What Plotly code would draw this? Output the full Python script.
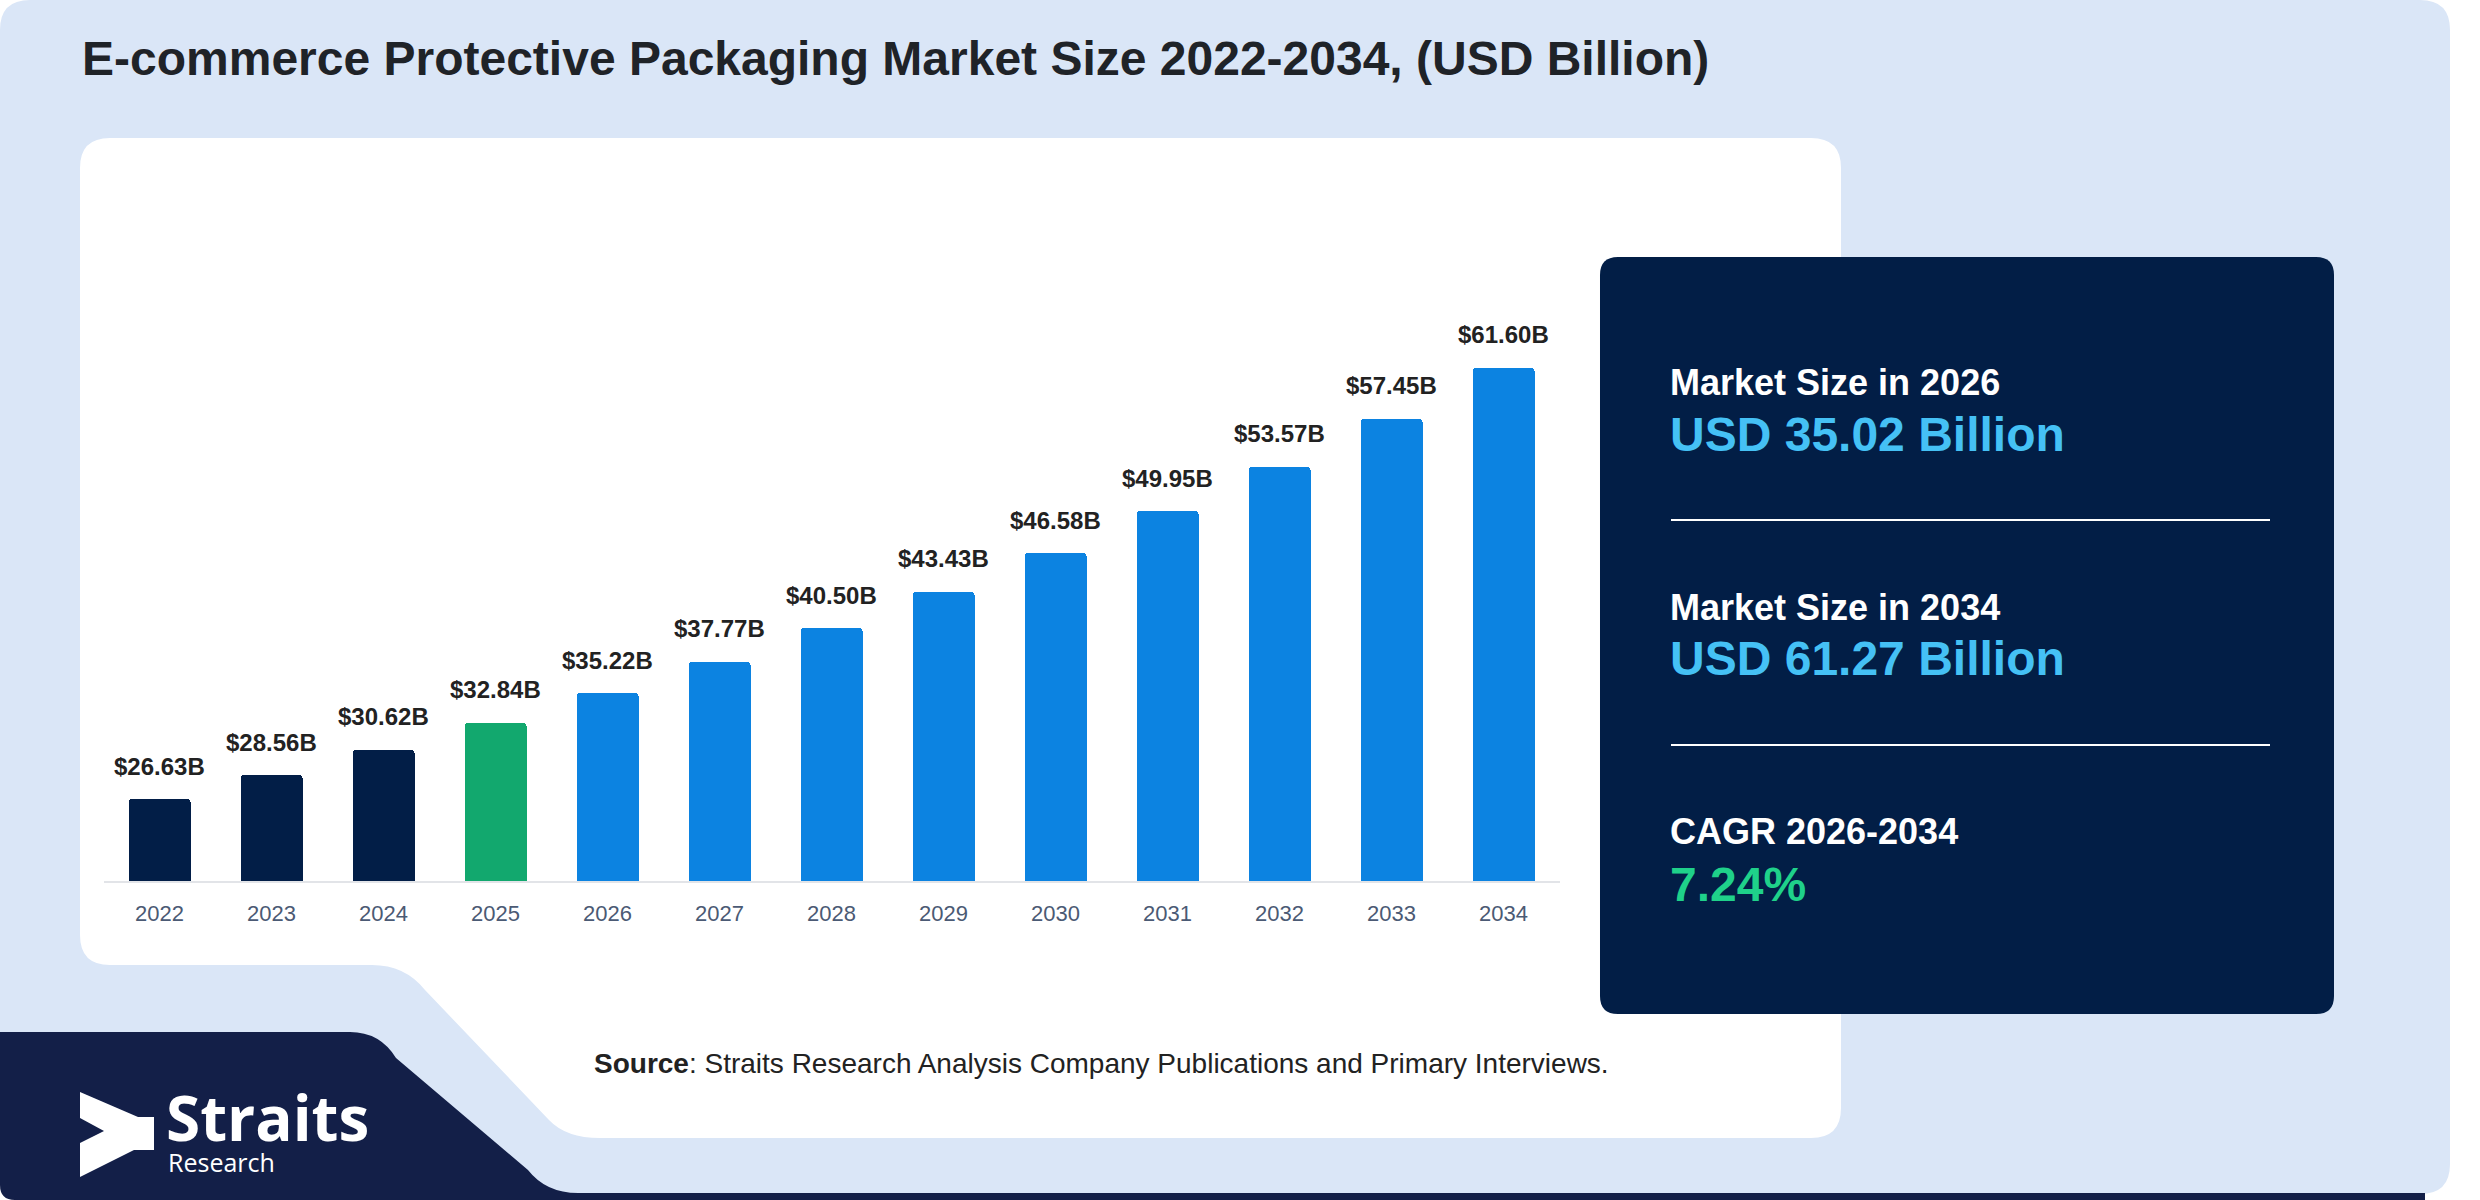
import plotly.graph_objects as go

# ---------------- data ----------------
years = ["2022", "2023", "2024", "2025", "2026", "2027", "2028",
         "2029", "2030", "2031", "2032", "2033", "2034"]
values = [26.63, 28.56, 30.62, 32.84, 35.22, 37.77, 40.50,
          43.43, 46.58, 49.95, 53.57, 57.45, 61.60]
base_year = 2025

kpi_labels = ["Market Size in 2026", "Market Size in 2034", "CAGR 2026-2034"]
kpi_values = ["USD 35.02 Billion", "USD 61.27 Billion", "7.24%"]

title_text = "E-commerce Protective Packaging Market Size 2022-2034, (USD Billion)"
source_text = "<b>Source</b>: Straits Research Analysis Company Publications and Primary Interviews."

# ---------------- styling ----------------
W, H = 2480, 1200
NAVY = "#021e47"
GREEN = "#12a86e"
BLUE = "#0c83e1"
CARD = "#dae6f7"
BOX = "#021e46"
LOGO_NAVY = "#131f48"
FONT = "Liberation Sans, Arial, sans-serif"


def px(x):
    return x / W


def py(y):
    return 1 - y / H


def pt(x, y):
    return f"{px(x):.5f},{py(y):.5f}"


def rrect(x0, y0, x1, y1, r):
    return (f"M {pt(x0 + r, y0)} L {pt(x1 - r, y0)} Q {pt(x1, y0)} {pt(x1, y0 + r)} "
            f"L {pt(x1, y1 - r)} Q {pt(x1, y1)} {pt(x1 - r, y1)} "
            f"L {pt(x0 + r, y1)} Q {pt(x0, y1)} {pt(x0, y1 - r)} "
            f"L {pt(x0, y0 + r)} Q {pt(x0, y0)} {pt(x0 + r, y0)} Z")


def bar_color(y):
    y = int(y)
    if y < base_year:
        return NAVY
    if y == base_year:
        return GREEN
    return BLUE


fig = go.Figure()
fig.add_trace(go.Bar(
    x=years, y=values,
    marker=dict(color=[bar_color(y) for y in years], line=dict(width=0), cornerradius=3),
    width=0.545,
    hoverinfo="skip",
))

shapes = []
# light card
shapes.append(dict(type="path", path=rrect(0, 0, 2450, 1194, 30),
                   xref="paper", yref="paper", fillcolor=CARD, line=dict(width=0), layer="below"))
# navy logo band
navy_path = (f"M {pt(0, 1032)} L {pt(350, 1032)} Q {pt(380, 1032)} {pt(396, 1058)} "
             f"L {pt(528, 1170)} Q {pt(546, 1193)} {pt(578, 1193)} "
             f"L {pt(2425, 1193)} L {pt(2425, 1200)} L {pt(15, 1200)} Q {pt(0, 1200)} {pt(0, 1185)} Z")
shapes.append(dict(type="path", path=navy_path, xref="paper", yref="paper",
                   fillcolor=LOGO_NAVY, line=dict(width=0), layer="below"))
# white panel with notch
white_path = (f"M {pt(110, 138)} L {pt(1811, 138)} Q {pt(1841, 138)} {pt(1841, 168)} "
              f"L {pt(1841, 1108)} Q {pt(1841, 1138)} {pt(1811, 1138)} "
              f"L {pt(600, 1138)} Q {pt(566, 1138)} {pt(549, 1120)} "
              f"L {pt(425, 990)} Q {pt(405, 965)} {pt(372, 965)} "
              f"L {pt(110, 965)} Q {pt(80, 965)} {pt(80, 935)} "
              f"L {pt(80, 168)} Q {pt(80, 138)} {pt(110, 138)} Z")
shapes.append(dict(type="path", path=white_path, xref="paper", yref="paper",
                   fillcolor="white", line=dict(width=0), layer="below"))
# dark KPI box
shapes.append(dict(type="path", path=rrect(1600, 257, 2334, 1014, 18),
                   xref="paper", yref="paper", fillcolor=BOX, line=dict(width=0), layer="below"))
# separator lines
for ly in (520, 745):
    shapes.append(dict(type="line", x0=px(1671), x1=px(2270), y0=py(ly), y1=py(ly),
                       xref="paper", yref="paper", line=dict(color="white", width=2)))
# logo icon
icon = [(80, 1092), (138, 1117), (154, 1117), (154, 1150), (134, 1150), (80, 1177),
        (80, 1143), (104, 1131), (80, 1118)]
icon_path = "M " + " L ".join(pt(x, y) for x, y in icon) + " Z"
shapes.append(dict(type="path", path=icon_path, xref="paper", yref="paper",
                   fillcolor="white", line=dict(width=0)))

annotations = []
# title
annotations.append(dict(text=f"<b>{title_text}</b>", x=px(80), y=py(58), xref="paper", yref="paper",
                        xanchor="left", yanchor="middle", showarrow=False,
                        font=dict(family=FONT, size=48, color="#1f2328")))
# bar value labels (x given as category index on the category axis)
for i, v in enumerate(values):
    annotations.append(dict(text=f"<b>${v:.2f}B</b>", x=i, y=v, xref="x", yref="y",
                            xanchor="center", yanchor="middle", yshift=33, showarrow=False,
                            font=dict(family=FONT, size=24, color="#222222")))
# KPI texts
label_y = [383, 607, 831]
value_y = [434, 658, 884]
value_colors = ["#45c1f5", "#45c1f5", "#1fd18a"]
for lab, val, ly, vy, vc in zip(kpi_labels, kpi_values, label_y, value_y, value_colors):
    annotations.append(dict(text=f"<b>{lab}</b>", x=px(1668), y=py(ly), xref="paper", yref="paper",
                            xanchor="left", yanchor="middle", showarrow=False,
                            font=dict(family=FONT, size=36, color="white")))
    annotations.append(dict(text=f"<b>{val}</b>", x=px(1668), y=py(vy), xref="paper", yref="paper",
                            xanchor="left", yanchor="middle", showarrow=False,
                            font=dict(family=FONT, size=48, color=vc)))
# source
annotations.append(dict(text=source_text, x=px(592), y=py(1063), xref="paper", yref="paper",
                        xanchor="left", yanchor="middle", showarrow=False,
                        font=dict(family=FONT, size=28, color="#222222")))
# logo text
annotations.append(dict(text="<b>Straits</b>", x=px(164), y=py(1117), xref="paper", yref="paper",
                        xanchor="left", yanchor="middle", showarrow=False,
                        font=dict(family="Open Sans, sans-serif", size=62, color="white")))
annotations.append(dict(text="Research", x=px(166), y=py(1162), xref="paper", yref="paper",
                        xanchor="left", yanchor="middle", showarrow=False,
                        font=dict(family="Open Sans, sans-serif", size=25, color="white")))

fig.update_layout(
    width=W, height=H,
    margin=dict(l=0, r=0, t=0, b=0),
    paper_bgcolor="white",
    plot_bgcolor="rgba(0,0,0,0)",
    showlegend=False,
    shapes=shapes,
    annotations=annotations,
    xaxis=dict(type="category", domain=[px(103.5), px(1559.5)], range=[-0.5, 12.5],
               showline=True, linecolor="#e2e4e8", linewidth=2,
               ticks="outside", ticklen=12, tickcolor="rgba(0,0,0,0)",
               showgrid=False, zeroline=False,
               tickfont=dict(family=FONT, size=22, color="#4b5a74")),
    yaxis=dict(domain=[py(881), py(264)], range=[20, 70], visible=False,
               showgrid=False, zeroline=False),
    bargap=0,
)

fig.write_html("out.html", config={"displayModeBar": False},
               post_script="document.body.style.margin='0';")
